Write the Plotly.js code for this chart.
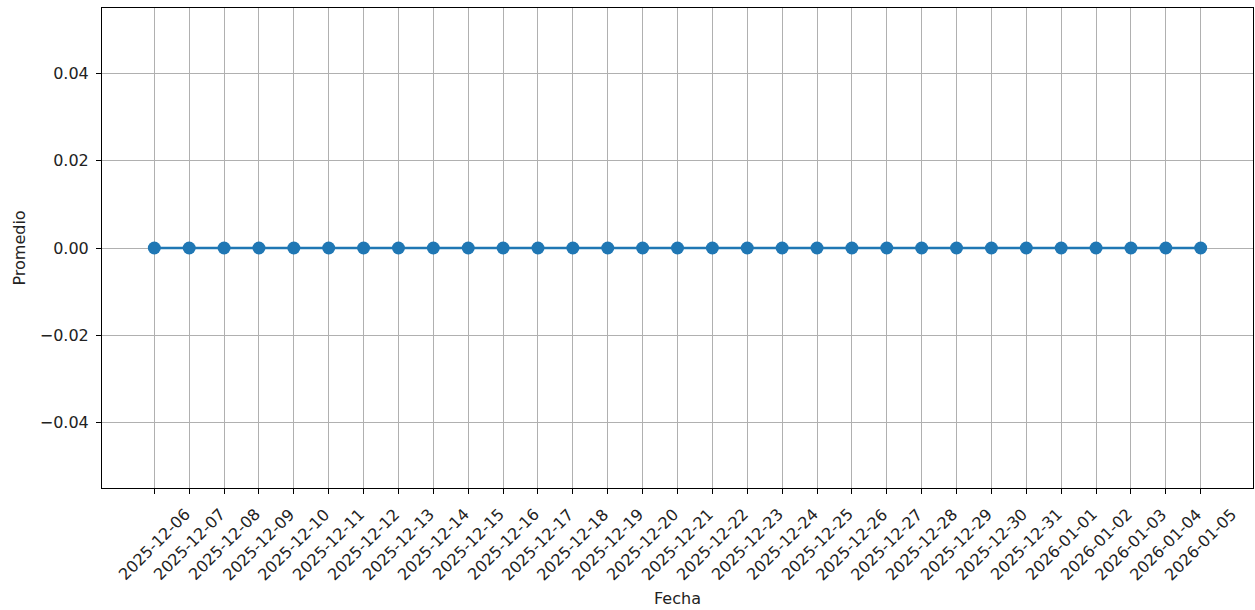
<!DOCTYPE html>
<html>
<head>
<meta charset="utf-8">
<script src="https://cdn.plot.ly/plotly-3.0.1.min.js"></script>
<style>html,body{margin:0;padding:0;background:#fff;}#chart{width:1255px;height:610px;}</style>
</head>
<body>
<div id="chart"></div>
<script>
const fechas = ["2025-12-06","2025-12-07","2025-12-08","2025-12-09","2025-12-10","2025-12-11","2025-12-12","2025-12-13","2025-12-14","2025-12-15","2025-12-16","2025-12-17","2025-12-18","2025-12-19","2025-12-20","2025-12-21","2025-12-22","2025-12-23","2025-12-24","2025-12-25","2025-12-26","2025-12-27","2025-12-28","2025-12-29","2025-12-30","2025-12-31","2026-01-01","2026-01-02","2026-01-03","2026-01-04","2026-01-05"];
const promedio = [0,0,0,0,0,0,0,0,0,0,0,0,0,0,0,0,0,0,0,0,0,0,0,0,0,0,0,0,0,0,0];
const yTickVals = [-0.04,-0.02,0,0.02,0.04];
const yTickText = ["\u22120.04","\u22120.02","0.00","0.02","0.04"];

const font = {family: "DejaVu Sans, sans-serif", size: 16, color: "#222"};
const trace = {
  x: fechas, y: promedio, type: "scatter", mode: "lines+markers",
  line: {color: "#1f77b4", width: 2.5},
  marker: {color: "#1f77b4", size: 13},
  hoverinfo: "x+y"
};
// rotated date labels centred on their ticks (matplotlib style)
const dateLabels = fechas.map(f => ({
  x: f, xref: "x", y: 0, yref: "paper",
  text: f, textangle: -45, showarrow: false,
  xanchor: "center", yanchor: "top", yshift: -14,
  font: font
}));
const layout = {
  width: 1255, height: 610,
  margin: {l: 102, r: 2, t: 8, b: 122},
  paper_bgcolor: "#fff", plot_bgcolor: "#fff",
  font: font,
  showlegend: false,
  annotations: dateLabels,
  xaxis: {
    type: "category",
    range: [-1.5, fechas.length - 1 + 1.5],
    showticklabels: false,
    ticks: "outside", ticklen: 5, tickwidth: 1, tickcolor: "#000",
    showgrid: true, gridcolor: "#b0b0b0", gridwidth: 1,
    showline: true, linecolor: "#000", linewidth: 1, mirror: true,
    zeroline: false,
    title: {text: "Fecha", font: font, standoff: 99},
    automargin: false
  },
  yaxis: {
    range: [-0.055, 0.055],
    tickvals: yTickVals, ticktext: yTickText,
    ticks: "outside", ticklen: 5, tickwidth: 1, tickcolor: "#000",
    ticklabelstandoff: 4,
    showgrid: true, gridcolor: "#b0b0b0", gridwidth: 1,
    showline: true, linecolor: "#000", linewidth: 1, mirror: true,
    zeroline: false,
    tickfont: font,
    title: {text: "Promedio", font: font, standoff: 10},
    automargin: false
  }
};
Plotly.newPlot("chart", [trace], layout, {displayModeBar: false});
</script>
</body>
</html>
